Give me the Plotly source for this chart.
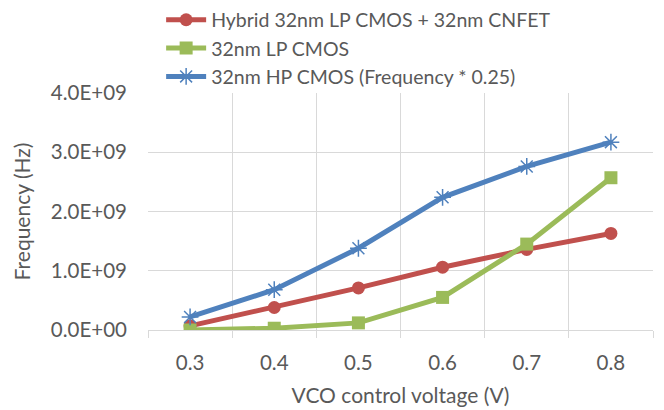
import plotly.graph_objects as go

voltages = ["0.3", "0.4", "0.5", "0.6", "0.7", "0.8"]
hybrid = [0.07e9, 0.38e9, 0.71e9, 1.06e9, 1.36e9, 1.63e9]
lp_cmos = [0.0e9, 0.03e9, 0.12e9, 0.55e9, 1.45e9, 2.57e9]
hp_cmos = [0.22e9, 0.68e9, 1.38e9, 2.24e9, 2.76e9, 3.17e9]
y_ticks = [0, 1e9, 2e9, 3e9, 4e9]
y_tick_text = ["0.0E+00", "1.0E+09", "2.0E+09", "3.0E+09", "4.0E+09"]

FONT = "Lato"
GREY = "#595959"
GRID = "#D9D9D9"

fig = go.Figure()
fig.add_trace(go.Scatter(x=voltages, y=hybrid, name="Hybrid 32nm LP CMOS + 32nm CNFET",
                         mode="lines+markers",
                         line=dict(color="#C0504D", width=5),
                         marker=dict(symbol="circle", size=13, color="#C0504D")))
fig.add_trace(go.Scatter(x=voltages, y=lp_cmos, name="32nm LP CMOS",
                         mode="lines+markers",
                         line=dict(color="#9BBB59", width=5),
                         marker=dict(symbol="square", size=13, color="#9BBB59")))
fig.add_trace(go.Scatter(x=voltages, y=hp_cmos, name="32nm HP CMOS (Frequency * 0.25)",
                         mode="lines+markers",
                         line=dict(color="#4F81BD", width=5),
                         marker=dict(symbol="asterisk", size=14,
                                     line=dict(color="#4F81BD", width=1.5))))

fig.update_layout(
    width=664, height=410,
    margin=dict(l=148, r=11, t=93, b=80, autoexpand=False),
    paper_bgcolor="white", plot_bgcolor="white",
    font=dict(family=FONT, size=19.5, color=GREY),
    legend=dict(x=0.026, y=1.39, xanchor="left", yanchor="top",
                font=dict(family=FONT, size=19.5, color=GREY),
                itemwidth=40, bgcolor="rgba(0,0,0,0)"),
    xaxis=dict(type="category", range=[-0.5, 5.5], tickson="boundaries",
               showgrid=True, gridcolor=GRID, gridwidth=1,
               ticks="outside", ticklen=7, tickcolor=GRID,
               showline=True, linecolor=GRID, ticklabelstandoff=14,
               title=dict(text="VCO control voltage (V)", font=dict(size=21, color=GREY), standoff=15),
               tickfont=dict(size=20.5, color=GREY)),
    yaxis=dict(range=[0, 4e9], tickvals=y_ticks, ticktext=y_tick_text,
               showgrid=True, gridcolor=GRID, gridwidth=1,
               zeroline=False, showline=False, ticklabelstandoff=20,
               title=dict(text="Frequency (Hz)", font=dict(size=21, color=GREY), standoff=14),
               tickfont=dict(size=20.5, color=GREY)),
)

fig.write_html("out.html")
